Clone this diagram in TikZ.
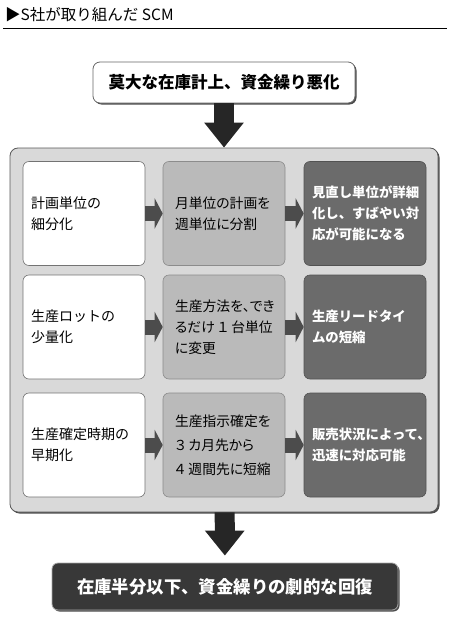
\documentclass[tikz,border=0pt]{standalone}
\usepackage{fontspec}
\setmainfont{Noto Sans CJK JP}
\newfontfamily\jpprop[RawFeature=+palt]{Noto Sans CJK JP}
\usetikzlibrary{arrows.meta,shadows}

\begin{document}
\begin{tikzpicture}[x=1pt, y=-1pt,
  box/.style={draw, rounded corners=6pt, minimum width=122pt, minimum height=104pt,
    text width=106pt, inner xsep=8pt, align=left, line width=0.6pt,
    font=\fontsize{14}{21}\selectfont},
  lbox/.style={box, fill=white, draw=black!55},
  mbox/.style={box, fill=black!27, draw=black!45, inner xsep=12pt, text width=98pt,
    font=\jpprop\fontsize{13.8}{21}\selectfont},
  dbox/.style={box, fill=black!58, draw=black!68, text=white,
    font=\bfseries\fontsize{13.4}{21}\selectfont},
  smallarrow/.style={draw=black!70, line width=15pt, -{Triangle[width=30pt,length=8pt]}},
  bigarrow/.style={draw=black!85, line width=20pt, -{Triangle[width=38pt,length=25pt]}},
  shade/.style={drop shadow={shadow xshift=1.5pt, shadow yshift=-1.5pt, fill=black!70, opacity=1}}]
  \useasboundingbox (0,0) rectangle (450,621);

  % title
  \node [anchor=base west, inner sep=0pt, font=\fontsize{15.5}{15.5}\selectfont] (title) at (5,20) {▶S社が取り組んだ SCM};
  \draw [line width=0.8pt] (3,28) -- (447,28);

  % top and panel
  \node [draw=black!60, fill=white, rounded corners=7pt, line width=0.8pt, shade,
    minimum width=262pt, minimum height=41pt, font=\bfseries\fontsize{16.5}{16.5}\selectfont] (top) at (224,82.5) {莫大な在庫計上、資金繰り悪化};
  \node [draw=black!65, fill=black!15, rounded corners=8pt, line width=0.8pt, shade,
    minimum width=428pt, minimum height=364pt] (panel) at (224,330) {};
  \draw [bigarrow] (top) to (panel);

  % row 1
  \node [lbox] (r1c1) at (84,213.5) {計画単位の\\細分化};
  \node [mbox] (r1c2) at (224,213.5) {月単位の計画を\\週単位に分割};
  \node [dbox] (r1c3) at (365,213.5) {見直し単位が詳細\\化し、すばやい対\\応が可能になる};
  \draw [smallarrow] (r1c1) to (r1c2);
  \draw [smallarrow] (r1c2) to (r1c3);

  % row 2
  \node [lbox] (r2c1) at (84,327) {生産ロットの\\少量化};
  \node [mbox] (r2c2) at (224,327) {生産方法を、でき\\るだけ\kern3pt １\kern3pt 台単位\\に変更};
  \node [dbox] (r2c3) at (365,327) {生産リードタイ\\ムの短縮};
  \draw [smallarrow] (r2c1) to (r2c2);
  \draw [smallarrow] (r2c2) to (r2c3);

  % row 3
  \node [lbox] (r3c1) at (84,445) {生産確定時期の\\早期化};
  \node [mbox] (r3c2) at (224,445) {生産指示確定を\\\kern3pt ３\kern3pt カ月先から\\\kern3pt ４\kern3pt 週間先に短縮};
  \node [dbox] (r3c3) at (365,445) {販売状況によって、\\迅速に対応可能};
  \draw [smallarrow] (r3c1) to (r3c2);
  \draw [smallarrow] (r3c2) to (r3c3);

  % result
  \node [draw=black!35, fill=black!78, text=white, rounded corners=6pt, line width=0.8pt, shade,
    minimum width=346pt, minimum height=47pt, font=\bfseries\fontsize{17.4}{17.4}\selectfont] (result) at (225,586.5) {在庫半分以下、資金繰りの劇的な回復};
  \draw [bigarrow, shorten >=7pt] (panel) to (result);
\end{tikzpicture}
\end{document}
